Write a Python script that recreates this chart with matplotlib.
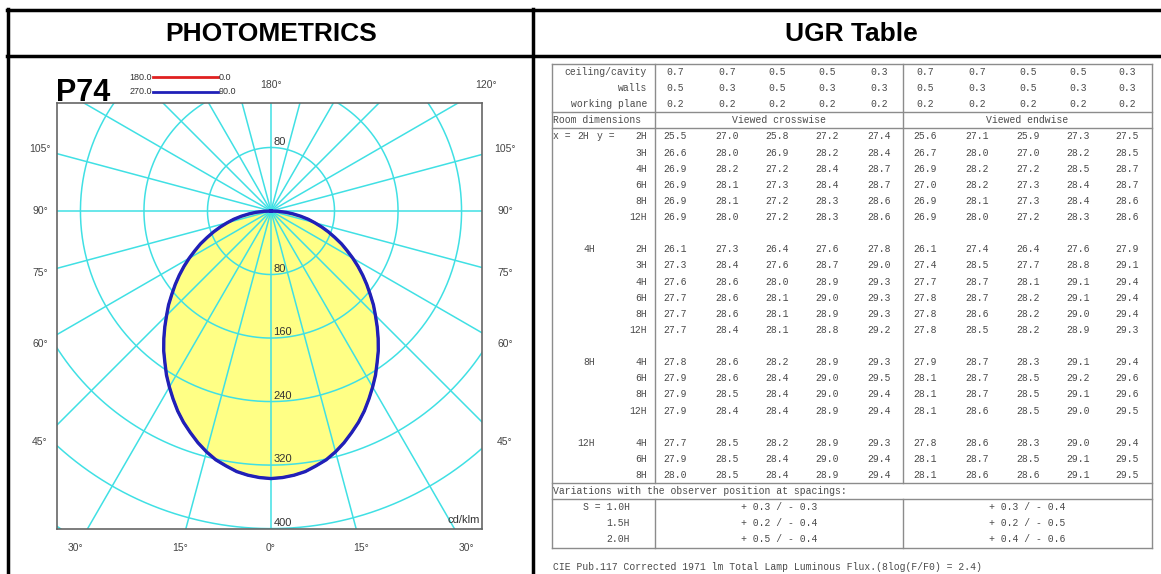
import numpy as np
import matplotlib.pyplot as plt

plt.rcParams['font.family'] = ['Liberation Sans', 'DejaVu Sans']

# photometric data, cd/klm, gamma measured from nadir (2.5 deg steps)
gamma = [i * 2.5 for i in range(37)]
c0_c180 = [337, 336, 334, 331, 326, 321, 314, 306, 297, 288, 278, 267, 256, 245, 233, 222, 210, 198, 186,
           175, 163, 152, 141, 130, 119, 108, 98, 87, 77, 67, 57, 48, 38, 28, 19, 9, 0]
c90_c270 = [337, 336, 334, 331, 326, 321, 314, 306, 297, 288, 278, 267, 256, 245, 233, 222, 210, 198, 186,
            175, 163, 152, 141, 130, 119, 108, 98, 87, 77, 67, 57, 48, 38, 28, 19, 9, 0]
rings = [80, 160, 240, 320, 400, 480, 560]
ring_labels_down = [80, 160, 240, 320, 400]
side_angles = [105, 90, 75, 60, 45]
bottom_angles = [-30, -15, 0, 15, 30]

# UGR table
ceiling = [0.7, 0.7, 0.5, 0.5, 0.3]
walls = [0.5, 0.3, 0.5, 0.3, 0.3]
working_plane = [0.2, 0.2, 0.2, 0.2, 0.2]
x_dims = ['2H', '4H', '8H', '12H']
y_dims = [['2H', '3H', '4H', '6H', '8H', '12H'],
          ['2H', '3H', '4H', '6H', '8H', '12H'],
          ['4H', '6H', '8H', '12H'],
          ['4H', '6H', '8H']]
crosswise = [
    [[25.5, 27.0, 25.8, 27.2, 27.4], [26.6, 28.0, 26.9, 28.2, 28.4], [26.9, 28.2, 27.2, 28.4, 28.7],
     [26.9, 28.1, 27.3, 28.4, 28.7], [26.9, 28.1, 27.2, 28.3, 28.6], [26.9, 28.0, 27.2, 28.3, 28.6]],
    [[26.1, 27.3, 26.4, 27.6, 27.8], [27.3, 28.4, 27.6, 28.7, 29.0], [27.6, 28.6, 28.0, 28.9, 29.3],
     [27.7, 28.6, 28.1, 29.0, 29.3], [27.7, 28.6, 28.1, 28.9, 29.3], [27.7, 28.4, 28.1, 28.8, 29.2]],
    [[27.8, 28.6, 28.2, 28.9, 29.3], [27.9, 28.6, 28.4, 29.0, 29.5], [27.9, 28.5, 28.4, 29.0, 29.4],
     [27.9, 28.4, 28.4, 28.9, 29.4]],
    [[27.7, 28.5, 28.2, 28.9, 29.3], [27.9, 28.5, 28.4, 29.0, 29.4], [28.0, 28.5, 28.4, 28.9, 29.4]],
]
endwise = [
    [[25.6, 27.1, 25.9, 27.3, 27.5], [26.7, 28.0, 27.0, 28.2, 28.5], [26.9, 28.2, 27.2, 28.5, 28.7],
     [27.0, 28.2, 27.3, 28.4, 28.7], [26.9, 28.1, 27.3, 28.4, 28.6], [26.9, 28.0, 27.2, 28.3, 28.6]],
    [[26.1, 27.4, 26.4, 27.6, 27.9], [27.4, 28.5, 27.7, 28.8, 29.1], [27.7, 28.7, 28.1, 29.1, 29.4],
     [27.8, 28.7, 28.2, 29.1, 29.4], [27.8, 28.6, 28.2, 29.0, 29.4], [27.8, 28.5, 28.2, 28.9, 29.3]],
    [[27.9, 28.7, 28.3, 29.1, 29.4], [28.1, 28.7, 28.5, 29.2, 29.6], [28.1, 28.7, 28.5, 29.1, 29.6],
     [28.1, 28.6, 28.5, 29.0, 29.5]],
    [[27.8, 28.6, 28.3, 29.0, 29.4], [28.1, 28.7, 28.5, 29.1, 29.5], [28.1, 28.6, 28.6, 29.1, 29.5]],
]
spacings = ['S = 1.0H', '1.5H', '2.0H']
var_cross = ['+ 0.3 / - 0.3', '+ 0.2 / - 0.4', '+ 0.5 / - 0.4']
var_end = ['+ 0.3 / - 0.4', '+ 0.2 / - 0.5', '+ 0.4 / - 0.6']
footnote = 'CIE Pub.117 Corrected 1971 lm Total Lamp Luminous Flux.(8log(F/F0) = 2.4)'

W, H = 1161, 574
fig = plt.figure(figsize=(W / 100, H / 100), dpi=100)
ax = fig.add_axes([0, 0, 1, 1])
ax.set_xlim(0, W)
ax.set_ylim(H, 0)
ax.axis('off')

# outer frame and header
for y in [10, 56]:
    ax.plot([7, W], [y, y], color='black', lw=2.5)
for x in [8, 533]:
    ax.plot([x, x], [9, H], color='black', lw=2.5)
ax.text(271, 34, 'PHOTOMETRICS', ha='center', va='center', fontsize=19, fontweight='bold')
ax.text(851, 34, 'UGR Table', ha='center', va='center', fontsize=19, fontweight='bold')

# ---- photometric diagram
cx, cy = 271, 211          # pixel centre of diagram
scale = 0.794              # px per cd/klm
left, right, top, bottom = 57, 482, 103, 529
pax = fig.add_axes([left / W, (H - bottom) / H, (right - left) / W, (bottom - top) / H])
pax.set_xlim(-(cx - left) / scale, (right - cx) / scale)
pax.set_ylim(-(bottom - cy) / scale, (cy - top) / scale)
pax.set_xticks([])
pax.set_yticks([])
for s in pax.spines.values():
    s.set_color('#666666')
    s.set_linewidth(1.2)

cyan = '#40e0e4'
t = np.linspace(0, 2 * np.pi, 500)
for r in rings:
    pax.plot(r * np.sin(t), r * np.cos(t), color=cyan, lw=1.1, zorder=2)
for a in range(0, 360, 15):
    ar = np.radians(a)
    pax.plot([0, 800 * np.sin(ar)], [0, -800 * np.cos(ar)], color=cyan, lw=1.1, zorder=2)

g = np.radians(gamma)


def plane_xy(vals):
    v = np.array(vals, dtype=float)
    xs = v * np.sin(g)
    ys = -v * np.cos(g)
    return (np.concatenate([-xs[::-1], xs[1:]]),
            np.concatenate([ys[::-1], ys[1:]]))


x0, y0 = plane_xy(c0_c180)
x9, y9 = plane_xy(c90_c270)
pax.fill(x0, y0, color='#ffff85', lw=0, zorder=1)
pax.plot(x0, y0, color='#e02020', lw=1.6, zorder=3)
pax.plot(x9, y9, color='#2020b8', lw=2.4, zorder=4)

pax.text(3, 80, '80', ha='left', va='bottom', fontsize=8, color='#333333', zorder=5)
for r in ring_labels_down:
    pax.text(3, -r + 1, str(r), ha='left', va='bottom', fontsize=8, color='#333333', zorder=5)
pax.text(263, -396, 'cd/klm', ha='right', va='bottom', fontsize=8, color='#333333', zorder=5)

# angle labels around the diagram
wl, hl = 231, 338
for a in side_angles:
    dy = wl / np.tan(np.radians(a))
    ax.text(40, cy + dy, f'{a}°', ha='center', va='center', fontsize=7.5, color='#444444')
    ax.text(505, cy + dy, f'{a}°', ha='center', va='center', fontsize=7.5, color='#444444')
for a in bottom_angles:
    ax.text(cx + hl * np.tan(np.radians(a)), 548, f'{abs(a)}°', ha='center', va='center',
            fontsize=7.5, color='#444444')
ax.text(cx, 85, '180°', ha='center', va='center', fontsize=7.5, color='#444444')
ax.text(486, 85, '120°', ha='center', va='center', fontsize=7.5, color='#444444')

# title and legend
ax.text(56, 93, 'P74', ha='left', va='center', fontsize=22, fontweight='bold')
ax.text(152, 77, '180.0', ha='right', va='center', fontsize=6.5, color='#333333')
ax.plot([153, 218], [77, 77], color='#e02020', lw=2)
ax.text(219, 77, '0.0', ha='left', va='center', fontsize=6.5, color='#333333')
ax.text(152, 92, '270.0', ha='right', va='center', fontsize=6.5, color='#333333')
ax.plot([153, 218], [92, 92], color='#2020b8', lw=2)
ax.text(219, 92, '90.0', ha='left', va='center', fontsize=6.5, color='#333333')

# ---- UGR table
mono = ['Liberation Mono', 'DejaVu Sans Mono']
tc = '#4a4a4a'
fs = 7
row0, pitch = 72, 16.12
tl, tr, col_line, mid_line = 552, 1152, 655, 903
cross_x = [675, 727, 777, 827, 879]
end_x = [925, 977, 1028, 1078, 1127]


def ry(i):
    return row0 + pitch * i


def mtext(x, y, s, ha='center'):
    ax.text(x, y, s, ha=ha, va='center', fontsize=fs, family=mono, color=tc)


for i, (name, vals) in enumerate([('ceiling/cavity', ceiling), ('walls', walls),
                                  ('working plane', working_plane)]):
    mtext(647, ry(i), name, 'right')
    for xc, xe, v in zip(cross_x, end_x, vals):
        mtext(xc, ry(i), f'{v:.1f}')
        mtext(xe, ry(i), f'{v:.1f}')
mtext(553, ry(3), 'Room dimensions', 'left')
mtext((col_line + mid_line) / 2, ry(3), 'Viewed crosswise')
mtext((mid_line + tr) / 2, ry(3), 'Viewed endwise')

row = 4
for gi, xd in enumerate(x_dims):
    for j, yd in enumerate(y_dims[gi]):
        y = ry(row)
        if gi == 0 and j == 0:
            mtext(553, y, 'x =', 'left')
            mtext(589, y, xd, 'right')
            mtext(597, y, 'y =', 'left')
        elif j == 0:
            mtext(595, y, xd, 'right')
        mtext(647, y, yd, 'right')
        for xc, v in zip(cross_x, crosswise[gi][j]):
            mtext(xc, y, f'{v:.1f}')
        for xe, v in zip(end_x, endwise[gi][j]):
            mtext(xe, y, f'{v:.1f}')
        row += 1
    if gi < len(x_dims) - 1:
        row += 1

mtext(553, ry(26), 'Variations with the observer position at spacings:', 'left')
for k in range(3):
    y = ry(27 + k)
    mtext(630, y, spacings[k], 'right')
    mtext((col_line + mid_line) / 2, y, var_cross[k])
    mtext((mid_line + tr) / 2, y, var_end[k])
mtext(553, 567, footnote, 'left')

lc = '#8c8c8c'
t_top, t_bot = ry(-0.5), ry(29.5)
for yy in [t_top, ry(2.5), ry(3.5), ry(25.5), ry(26.5), t_bot]:
    ax.plot([tl, tr], [yy, yy], color=lc, lw=1)
for xx in [tl, tr]:
    ax.plot([xx, xx], [t_top, t_bot], color=lc, lw=1)
for xx in [col_line, mid_line]:
    ax.plot([xx, xx], [t_top, ry(25.5)], color=lc, lw=1)
    ax.plot([xx, xx], [ry(26.5), t_bot], color=lc, lw=1)

fig.savefig('out.png', dpi=100)
